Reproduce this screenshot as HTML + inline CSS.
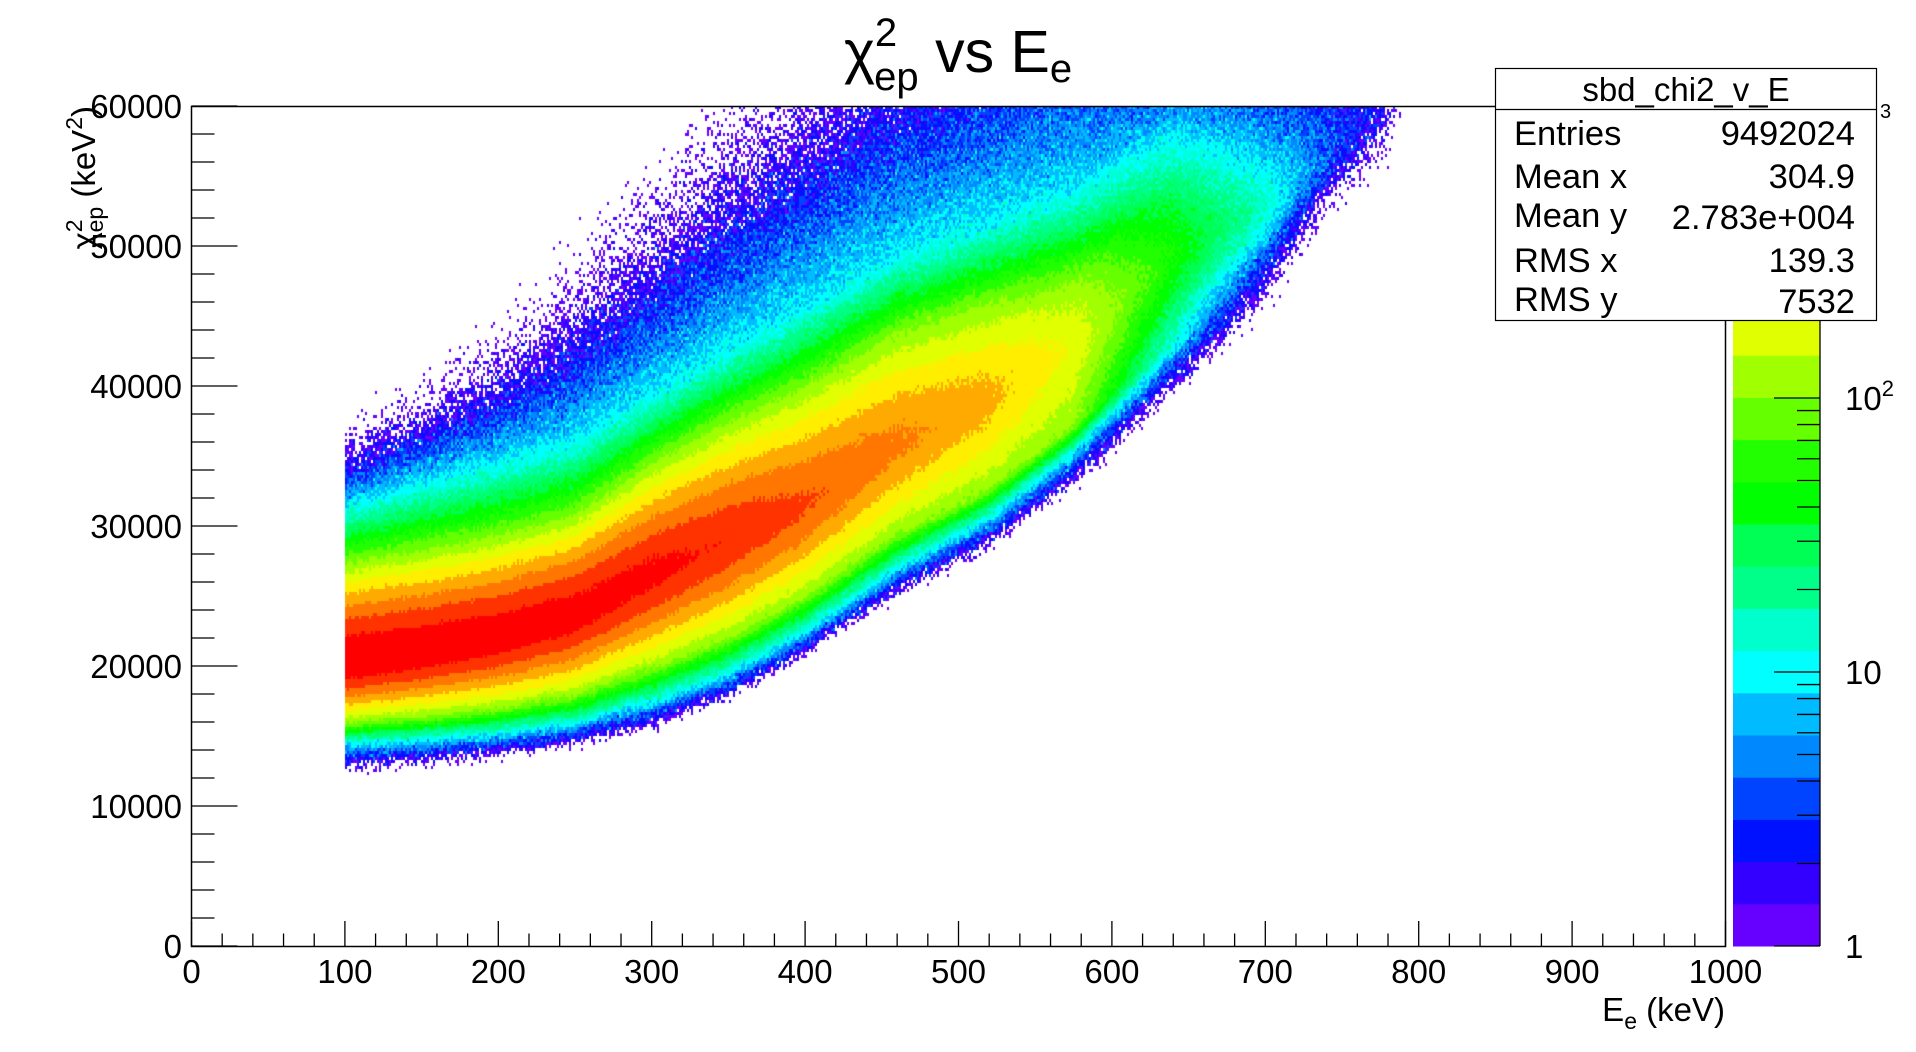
<!DOCTYPE html>
<html><head><meta charset="utf-8"><style>
html,body{margin:0;padding:0;background:#fff;width:1916px;height:1052px;overflow:hidden;font-family:"Liberation Sans",Arial,sans-serif;}
#wrap{position:relative;width:1916px;height:1052px;}
canvas{position:absolute;left:191px;top:106px;}
svg{position:absolute;left:0;top:0;}
</style></head><body>
<div id="wrap">
<canvas id="heat" width="1534" height="840"></canvas>
<svg id="ov" width="1916" height="1052" font-family="Liberation Sans, Arial, sans-serif">
  <text x="958" y="72" text-anchor="middle" font-size="59">χ<tspan font-size="40" dy="-26">2</tspan><tspan font-size="40" dx="-23" dy="44">ep</tspan><tspan dy="-18"> vs E</tspan><tspan font-size="40" dy="10">e</tspan></text>
  <rect x="191.5" y="106.5" width="1534" height="840" fill="none" stroke="#000" stroke-width="1.5"/>
  <g id="yticks"></g>
  <g id="xticks"></g>
  <text transform="translate(95,106) rotate(-90)" text-anchor="end" font-size="33">χ<tspan font-size="23" dy="-13">2</tspan><tspan font-size="23" dx="-13" dy="21">ep</tspan><tspan dy="-8">  (keV</tspan><tspan font-size="23" dy="-13">2</tspan><tspan dy="13">)</tspan></text>
  <text x="1725" y="1021" text-anchor="end" font-size="33">E<tspan font-size="23" dy="8">e</tspan><tspan dy="-8"> (keV)</tspan></text>
  <g id="cbar"></g>
  <text x="1880" y="118" font-size="20">3</text>
  <g>
    <rect x="1495.5" y="68.5" width="381" height="252" fill="#fff" stroke="#000" stroke-width="1.2"/>
    <line x1="1495" y1="109.5" x2="1877" y2="109.5" stroke="#000" stroke-width="1.2"/>
    <text x="1686" y="101" text-anchor="middle" font-size="33">sbd_chi2_v_E</text>
    <g font-size="34.5">
      <text x="1514" y="145">Entries</text><text x="1855" y="145" text-anchor="end">9492024</text>
      <text x="1514" y="188">Mean x</text><text x="1855" y="188" text-anchor="end">304.9</text>
      <text x="1514" y="227">Mean y</text><text x="1855" y="229" text-anchor="end">2.783e+004</text>
      <text x="1514" y="272">RMS x</text><text x="1855" y="272" text-anchor="end">139.3</text>
      <text x="1514" y="311">RMS y</text><text x="1855" y="313" text-anchor="end">7532</text>
    </g>
  </g>
</svg>
</div>
<script>
// ---- data ----
const energies=[100,150,200,250,300,350,400,460,520,575,640,700,740,780,800];
const ridge   =[20200,21000,22000,23600,26500,29000,31500,35800,39000,43000,49300,53000,56500,60000,62000];
const peak    =[1200,1150,1100,1050,950,800,620,450,330,190,50,14,4,1.5,0.5];
const up100   =[27400,28300,29300,30800,34500,37500,40000,43800,46000,47500,null,null,null,null,null];
const up10    =[31400,33000,34500,36000,39300,42500,45500,49200,51500,53800,57500,55500,null,null,null];
const up1     =[35200,38000,41000,45000,50000,55000,59000,64000,67000,70000,67000,66000,64000,64000,null];
const low100  =[15900,16300,16900,17800,19700,21900,24800,29300,32500,37000,null,null,null,null,null];
const low10   =[14400,14700,15100,15800,17300,19400,22400,26900,30500,35200,42600,51000,null,null,null];
const low1    =[12700,13200,13700,14400,15800,17800,20900,25200,28700,33100,40000,46800,53500,58500,null];
const yTickLabels=["0","10000","20000","30000","40000","50000","60000"];
const xTickLabels=["0","100","200","300","400","500","600","700","800","900","1000"];
const zTickLabels=["1","10","10²"];
const palette=["#6600ff","#3300ff","#0011ff","#0044ff","#0088ff","#00bbff","#00ffff","#00ffcc","#00ff88","#00ff55","#00ff00","#22ff00","#66ff00","#a0ff00","#e0ff00","#ffee00","#ffaa00","#ff7700","#ff3300","#ff0000"];

const X0=191.5,Y0=946,PW=1534,PH=840,XMAX=1000,YMAX=60000,ZMAXLOG=3.08;
const xPix=e=>X0+e/XMAX*PW;
const yPix=v=>Y0-v/YMAX*PH;
const NS="http://www.w3.org/2000/svg";
function mk(tag,attrs,parent){const el=document.createElementNS(NS,tag);for(const k in attrs)el.setAttribute(k,attrs[k]);parent.appendChild(el);return el;}

// ---- profile evaluation ----
function side(i,d,upper){
  const r=ridge[i],Lp=Math.log10(peak[i]);
  const vals=upper?[up100[i],up10[i],up1[i]]:[low100[i],low10[i],low1[i]];
  const nodes=[[0,Lp]];
  [2,1,0].forEach((lvl,k)=>{const v=vals[k];if(v!==null&&lvl<Lp)nodes.push([Math.abs(v-r),lvl]);});
  if(nodes.length===1){return Lp-d/2500;}
  for(let k=1;k<nodes.length;k++){
    const [d0,l0]=nodes[k-1],[d1,l1]=nodes[k];
    if(d<=d1){const f=(d-d0)/(d1-d0);return k===1?l0+(l1-l0)*Math.pow(f,1.5):l0+(l1-l0)*f;}
  }
  const a=nodes[nodes.length-2],b=nodes[nodes.length-1];
  const slope=(b[1]-a[1])/(b[0]-a[0]);
  return b[1]+(d-b[0])*slope*(upper?0.6:1.0);
}
function logCount(E,v){
  if(E<100||E>=800)return -9;
  let i=0;while(i<energies.length-2&&E>energies[i+1])i++;
  const t=(E-energies[i])/(energies[i+1]-energies[i]);
  const r=ridge[i]+(ridge[i+1]-ridge[i])*t;
  const d=v-r;
  const La=side(i,Math.abs(d),d>0),Lb=side(i+1,Math.abs(d),d>0);
  return La+(Lb-La)*t;
}
function hash(a,b,c){let h=(a*374761393+b*668265263+c*2147483647)|0;h=(h^(h>>>13))*1274126177|0;h=h^(h>>>16);return (h>>>0)/4294967296;}

// ---- draw heatmap ----
(function(){
  const cv=document.getElementById('heat'),ctx=cv.getContext('2d');
  const img=ctx.createImageData(PW,PH),data=img.data;
  const rgb=palette.map(h=>[parseInt(h.substr(1,2),16),parseInt(h.substr(3,2),16),parseInt(h.substr(5,2),16)]);
  for(let i=0;i<data.length;i+=4){data[i]=255;data[i+1]=255;data[i+2]=255;data[i+3]=255;}
  const CW=2,CH=3;
  for(let cy=0;cy<PH/CH;cy++){
    const v=YMAX-(cy+0.5)*CH/PH*YMAX;
    for(let cx=0;cx<PW/CW;cx++){
      const E=(cx+0.5)*CW/PW*XMAX;
      let L=logCount(E,v);
      if(L<-1.6)continue;
      const c=Math.pow(10,L);
      const g=(hash(cx,cy,1)+hash(cx,cy,2)+hash(cx,cy,3)-1.5)*2;
      const sig=Math.min(0.3,0.434/Math.sqrt(Math.max(c,0.3)))*0.8;
      L+=g*sig;
      if(L<0)continue;
      const idx=Math.min(19,Math.floor(L/(ZMAXLOG/20)));
      const col=rgb[idx];
      for(let yy=0;yy<CH;yy++){const py=cy*CH+yy;if(py>=PH)break;
        for(let xx=0;xx<CW;xx++){const px=cx*CW+xx;if(px>=PW)break;
          const o=(py*PW+px)*4;data[o]=col[0];data[o+1]=col[1];data[o+2]=col[2];}}
    }
  }
  ctx.putImageData(img,0,0);
})();

// ---- axes ----
(function(){
  const gy=document.getElementById('yticks');
  for(let v=0;v<=YMAX;v+=2000){
    const major=v%10000===0;const y=yPix(v);
    const t=mk('line',{x1:X0,y1:y,x2:X0+(major?46:23),y2:y,stroke:'#000','stroke-width':1.3},gy);
    
    
  }
  yTickLabels.forEach(s=>{
    const v=+s;
    const t=mk('text',{x:182,y:yPix(v)+12,'text-anchor':'end','font-size':33},gy);
    t.textContent=s;
    
    
  });
  const gx=document.getElementById('xticks');
  for(let e=0;e<=XMAX;e+=20){
    const major=e%100===0;const x=xPix(e);
    const t=mk('line',{x1:x,y1:Y0,x2:x,y2:Y0-(major?25:12.5),stroke:'#000','stroke-width':1.3},gx);
    
    
  }
  xTickLabels.forEach(s=>{
    const e=+s;
    const t=mk('text',{x:xPix(e),y:983,'text-anchor':'middle','font-size':33},gx);
    t.textContent=s;
    
    
  });
  // color scale
  const gc=document.getElementById('cbar');
  const CX0=1733,CX1=1820,DEC=274;
  const zPix=l=>Y0-l*DEC;
  palette.forEach((col,k)=>{
    const l0=k*ZMAXLOG/20,l1=(k+1)*ZMAXLOG/20;
    const r=mk('rect',{x:CX0,y:zPix(l1),width:CX1-CX0,height:zPix(l0)-zPix(l1)+0.5,fill:col},gc);
    
    
  });
  for(let dec=0;dec<4;dec++){for(let m=1;m<10;m++){
    const l=dec+Math.log10(m);if(l>ZMAXLOG)break;
    const y=zPix(l);
    const t=mk('line',{x1:CX1,y1:y,x2:CX1-(m===1?46:23),y2:y,stroke:'#000','stroke-width':1.3},gc);
    
    
  }}
  mk('line',{x1:CX1,y1:Y0,x2:CX1,y2:106,stroke:'#000','stroke-width':1.3},gc);
  zTickLabels.forEach((s,k)=>{
    const t=mk('text',{x:1845,y:zPix(k)+12,'font-size':33},gc);
    if(s==='10²'){t.textContent='10';const sp=mk('tspan',{'font-size':22,dy:-14},t);sp.textContent='2';}
    else t.textContent=s;
    
    
  });
})();
</script>
</body></html>
